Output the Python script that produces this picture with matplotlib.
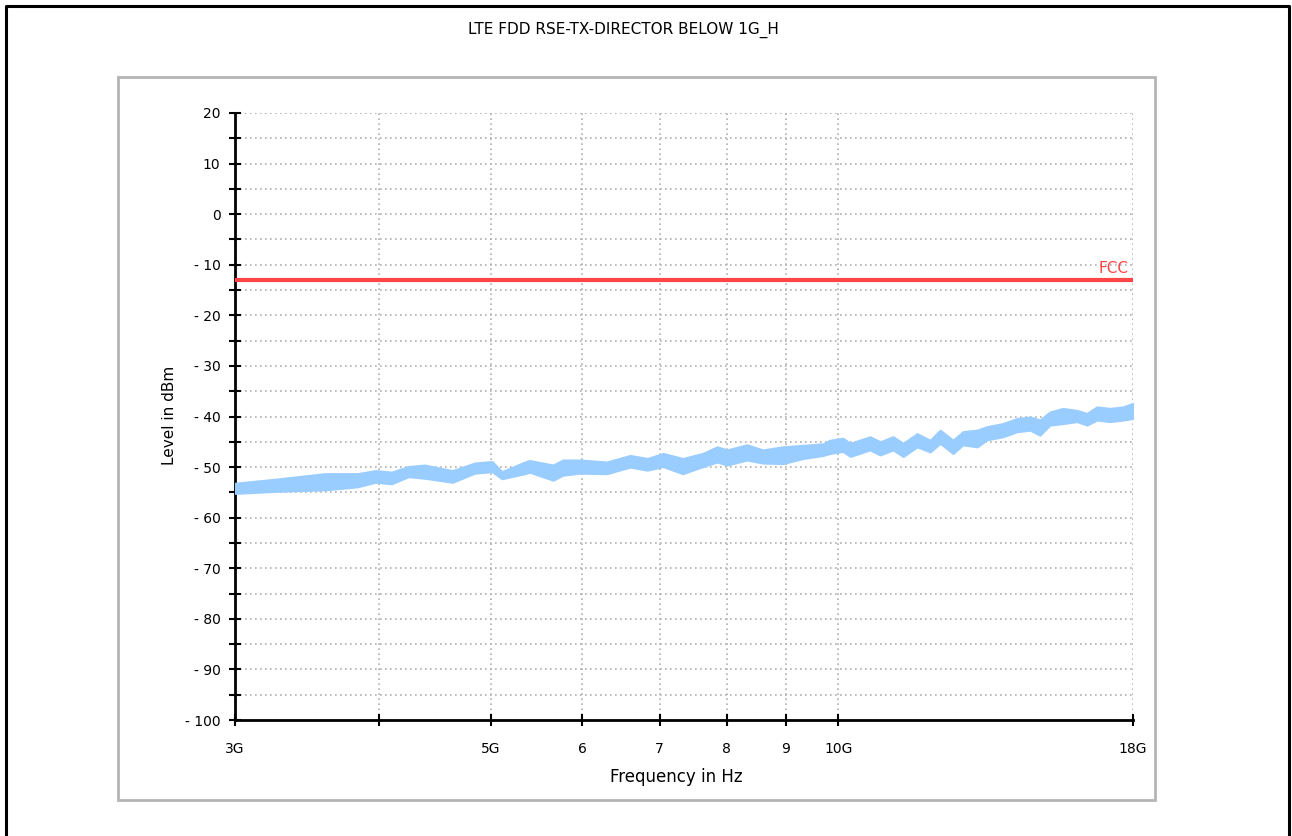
import matplotlib
matplotlib.use('Agg')
import matplotlib.pyplot as plt
from matplotlib.patches import Rectangle
from matplotlib.lines import Line2D
from matplotlib.ticker import FixedLocator, FixedFormatter, NullFormatter

freq_ghz = [3.00, 3.25, 3.59, 3.83, 3.97, 4.10, 4.24, 4.38, 4.63, 4.84,
            5.01, 5.11, 5.35, 5.40, 5.66, 5.77, 5.97, 6.30, 6.60, 6.83,
            7.05, 7.33, 7.63, 7.85, 8.01, 8.33, 8.60, 8.95, 9.32, 9.70,
            9.83, 10.09, 10.24, 10.65, 10.87, 11.15, 11.38, 11.70, 12.01, 12.25,
            12.57, 12.82, 13.19, 13.45, 13.89, 14.28, 14.66, 14.95, 15.25, 15.65,
            16.10, 16.42, 16.75, 17.19, 17.65, 18.00]
level_top = [-53.2, -52.4, -51.3, -51.3, -50.7, -51.0, -49.9, -49.6, -50.7, -49.2,
             -48.9, -50.9, -49.0, -48.7, -49.6, -48.6, -48.6, -49.0, -47.7, -48.3,
             -47.3, -48.3, -47.3, -46.0, -46.6, -45.6, -46.6, -46.0, -45.7, -45.4,
             -44.7, -44.3, -45.3, -44.0, -45.0, -44.0, -45.3, -43.4, -44.7, -42.7,
             -44.7, -43.0, -42.7, -42.0, -41.4, -40.4, -40.1, -40.7, -39.1, -38.4,
             -38.8, -39.4, -38.1, -38.4, -38.1, -37.4]
level_bottom = [-55.2, -54.8, -54.5, -53.9, -53.0, -53.3, -51.9, -52.2, -53.0, -51.2,
                -50.9, -52.3, -51.3, -51.0, -52.6, -51.6, -51.2, -51.3, -50.0, -50.6,
                -49.9, -51.3, -49.9, -49.0, -49.6, -48.6, -49.2, -49.3, -48.3, -47.7,
                -47.3, -46.9, -47.9, -46.6, -47.6, -46.6, -47.9, -46.0, -47.0, -45.3,
                -47.3, -45.6, -46.0, -44.6, -44.0, -43.0, -42.7, -43.7, -41.7, -41.4,
                -41.0, -41.7, -40.7, -41.0, -40.7, -40.4]

limit_fcc = -13
x_ticks = [3, 4, 5, 6, 7, 8, 9, 10, 18]
x_labels = ['3G', '', '5G', '6', '7', '8', '9', '10G', '18G']
y_ticks = list(range(-100, 21, 10))

fig = plt.figure(figsize=(12.92, 8.36), dpi=100)
W, H = 1292, 836

# Rahmen
fig.add_artist(Line2D([6 / W, 6 / W, 1289 / W, 1289 / W], [0, 1 - 6 / H, 1 - 6 / H, 0],
                      transform=fig.transFigure, color='black', lw=2.2))
fig.add_artist(Rectangle((118 / W, 1 - 800 / H), (1155 - 118) / W, (800 - 77) / H,
                         transform=fig.transFigure, fill=False, edgecolor='#b4b4b4', lw=2))

ax = fig.add_axes([235 / W, 1 - 720 / H, 898 / W, 607 / H])
ax.set_xscale('log')
ax.set_xlim(3, 18)
ax.set_ylim(-100, 20)

ax.fill_between(freq_ghz, level_bottom, level_top, color='#99ccff', lw=1.5, zorder=3)
ax.plot([3, 18], [limit_fcc, limit_fcc], color='#ff4545', lw=3, solid_capstyle='butt', zorder=4)
ax.text(17.85, limit_fcc + 0.8, 'FCC', color='#ff4545', fontsize=11, ha='right', va='bottom')

ax.xaxis.set_major_locator(FixedLocator(x_ticks))
ax.xaxis.set_major_formatter(FixedFormatter(x_labels))
ax.xaxis.set_minor_formatter(NullFormatter())
ax.xaxis.set_minor_locator(FixedLocator([]))
ax.set_yticks(y_ticks)
ax.set_yticklabels([str(v) if v >= 0 else '- ' + str(abs(v)) for v in y_ticks])
ax.set_yticks(list(range(-95, 20, 10)), minor=True)

ax.tick_params(axis='both', which='both', direction='inout', length=9, width=1.5,
               labelsize=10, colors='black')
ax.tick_params(axis='y', pad=6)
ax.tick_params(axis='x', pad=11)

ax.grid(True, which='both', color='#b0b0b0', linestyle=(0, (1, 2)), lw=1.2)
ax.set_axisbelow(True)
for s in ['top', 'right']:
    ax.spines[s].set_visible(False)
ax.spines['left'].set_linewidth(2)
ax.spines['bottom'].set_linewidth(2)

fig.text(170 / W, 1 - 415 / H, 'Level in dBm', rotation=90, fontsize=11, ha='center', va='center')
fig.text(676 / W, 1 - 777 / H, 'Frequency in Hz', fontsize=12, ha='center', va='center')
fig.text(623 / W, 1 - 30 / H, 'LTE FDD RSE-TX-DIRECTOR BELOW 1G_H', fontsize=11,
         ha='center', va='center')

fig.savefig('out.png', dpi=100)
